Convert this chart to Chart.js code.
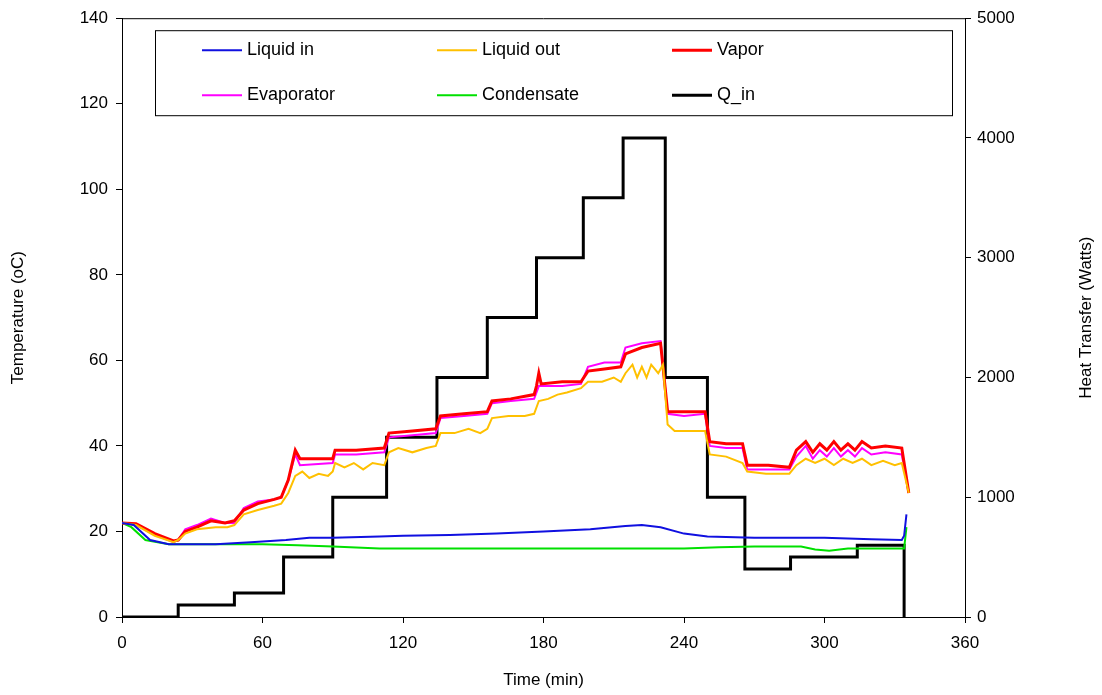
<!DOCTYPE html>
<html><head><meta charset="utf-8">
<script src="https://cdn.jsdelivr.net/npm/chart.js@4/dist/chart.umd.min.js"></script>
<style>body{margin:0;background:#fff}#wrap{width:1102px;height:695px}</style>
</head><body><div id="wrap"><canvas id="c"></canvas></div>
<script>
// [time (min), value] pairs
const liquidIn = [[0,22],[5,21.5],[12,18],[20,17],[40,17],[55,17.5],[70,18],[80,18.5],[90,18.5],[110,18.8],[120,19],[140,19.2],[160,19.5],[180,20],[200,20.5],[215,21.3],[222,21.5],[230,21],[240,19.5],[250,18.8],[270,18.5],[300,18.5],[320,18.2],[333,18],[334,19],[335,24]];
const liquidOut = [[0,22],[6,21.5],[14,19],[22,17.5],[24,18],[27,19.5],[32,20.5],[40,21],[45,21],[48,21.5],[52,24],[58,25],[65,26],[68,26.5],[71,29],[74,33],[77,34],[80,32.5],[84,33.5],[88,33],[90,34],[91,36],[95,35],[99,36],[103,34.5],[107,36],[112,35.5],[114,38.5],[118,39.5],[124,38.5],[130,39.5],[134,40],[136,43],[142,43],[148,44],[153,43],[156,44],[158,46.5],[165,47],[172,47],[176,47.5],[178,50.5],[182,51],[186,52],[190,52.5],[196,53.5],[199,55],[205,55],[210,56],[213,55],[215,57],[218,59],[220,56],[222,58.5],[224,56],[226,59],[229,57],[231,59],[233,45],[236,43.5],[249,43.5],[251,38],[258,37.5],[265,36],[267,34],[275,33.5],[285,33.5],[288,35.5],[292,37],[296,36],[300,37],[304,35.5],[308,37],[312,36],[316,37],[320,35.5],[325,36.5],[330,35.5],[333,36],[336,29]];
const vapor = [[0,22],[6,21.8],[14,19.5],[22,17.8],[24,18],[27,20],[32,21],[38,22.5],[44,22],[48,22.5],[52,25],[58,26.5],[65,27.5],[68,28],[71,32],[74,39],[76,37],[82,37],[88,37],[90,37],[91,39],[100,39],[112,39.5],[114,43],[124,43.5],[134,44],[136,47],[146,47.5],[156,48],[158,50.5],[166,51],[176,52],[177,54],[178,57],[179,54.5],[188,55],[196,55],[199,57.5],[206,58],[213,58.5],[215,61.5],[222,63],[230,64],[233,48],[240,48],[249,48],[251,41],[258,40.5],[265,40.5],[267,35.5],[276,35.5],[285,35],[288,39],[292,41],[295,38.5],[298,40.5],[301,39],[304,41],[307,39],[310,40.5],[313,39],[316,41],[320,39.5],[326,40],[333,39.5],[336,29]];
const evaporator = [[0,22],[6,21.5],[14,19.2],[22,17.5],[24,18],[27,20.5],[32,21.5],[38,23],[44,22],[48,22],[52,25.5],[58,27],[65,27.5],[68,28],[71,32],[74,38],[76,35.5],[90,36],[91,38],[100,38],[112,38.5],[114,42],[124,42.5],[134,43],[136,46.5],[146,47],[156,47.5],[158,50],[166,50.5],[176,51],[178,54],[188,54],[196,54.5],[199,58.5],[206,59.5],[213,59.5],[215,63],[222,64],[230,64.5],[233,47.5],[240,47],[249,47.5],[251,40],[258,39.5],[265,39.5],[267,34.5],[276,34.5],[285,34.5],[288,37.5],[292,40],[295,37],[298,39],[301,37.5],[304,39.5],[307,37.5],[310,39],[313,37.5],[316,39.5],[320,38],[326,38.5],[333,38],[336,29]];
const condensate = [[0,22],[4,21],[10,18],[20,17],[40,17],[60,17],[75,16.8],[90,16.5],[110,16],[150,16],[200,16],[240,16],[255,16.3],[270,16.5],[290,16.5],[296,15.8],[302,15.5],[310,16],[320,16],[334,16],[335,21]];
const qIn = [[0,0],[24,0],[24,100],[48,100],[48,200],[69,200],[69,500],[90,500],[90,1000],[113,1000],[113,1500],[134.5,1500],[134.5,2000],[156,2000],[156,2500],[177,2500],[177,3000],[197,3000],[197,3500],[214,3500],[214,4000],[232,4000],[232,2000],[250,2000],[250,1000],[266,1000],[266,400],[285.5,400],[285.5,500],[314,500],[314,600],[334,600],[334,0]];
const xTicks = [0,60,120,180,240,300,360];

const pts = a => a.map(p => ({x: p[0], y: p[1]}));
const font = {family: 'Liberation Sans, Arial', size: 17};

const legendBox = {
  id: 'legendBox',
  afterDraw(chart) {
    const c = chart.ctx, ca = chart.chartArea;
    const x0 = ca.left + 33, y0 = ca.top + 12, w = 797, h = 85;
    c.save();
    c.fillStyle = '#fff'; c.fillRect(x0, y0, w, h);
    c.strokeStyle = '#000'; c.lineWidth = 1; c.strokeRect(x0 + 0.5, y0 + 0.5, w, h);
    c.font = '18px Liberation Sans, Arial'; c.textBaseline = 'middle';
    chart.data.datasets.forEach((d, i) => {
      const col = i % 3, row = Math.floor(i / 3);
      const lx = x0 + 47 + col * 235, ly = y0 + 20 + row * 45;
      c.strokeStyle = d.borderColor; c.lineWidth = d.borderWidth;
      c.beginPath(); c.moveTo(lx, ly); c.lineTo(lx + 40, ly); c.stroke();
      c.fillStyle = '#000'; c.fillText(d.label, lx + 45, ly);
    });
    // right axis title, reading bottom to top
    c.translate(1086, (ca.top + ca.bottom) / 2);
    c.rotate(-Math.PI / 2);
    c.textAlign = 'center';
    c.font = '17px Liberation Sans, Arial';
    c.fillText('Heat Transfer (Watts)', 0, 0);
    c.restore();
  }
};

new Chart(document.getElementById('c'), {
  type: 'line',
  data: {datasets: [
    {label: 'Liquid in', data: pts(liquidIn), borderColor: '#1010e0', borderWidth: 2, yAxisID: 'y'},
    {label: 'Liquid out', data: pts(liquidOut), borderColor: '#ffc000', borderWidth: 2, yAxisID: 'y'},
    {label: 'Vapor', data: pts(vapor), borderColor: '#ff0000', borderWidth: 3, yAxisID: 'y'},
    {label: 'Evaporator', data: pts(evaporator), borderColor: '#ff00ff', borderWidth: 2, yAxisID: 'y'},
    {label: 'Condensate', data: pts(condensate), borderColor: '#00e000', borderWidth: 2, yAxisID: 'y'},
    {label: 'Q_in', data: pts(qIn), borderColor: '#000', borderWidth: 3, yAxisID: 'y2'}
  ]},
  options: {
    responsive: true, maintainAspectRatio: false, animation: false,
    elements: {point: {radius: 0}, line: {tension: 0}},
    layout: {padding: {left: 0, right: 0, top: 16, bottom: 4}},
    plugins: {legend: {display: false}, tooltip: {enabled: false}},
    scales: {
      x: {type: 'linear', min: 0, max: 360,
        afterBuildTicks: s => { s.ticks = xTicks.map(v => ({value: v})); },
        afterFit: s => { s.height = 74; },
        grid: {drawOnChartArea: false, color: '#000', tickLength: 6},
        border: {color: '#000', width: 1},
        ticks: {color: '#000', font, padding: 10},
        title: {display: true, text: 'Time (min)', color: '#000', font, padding: 0}},
      y: {position: 'left', min: 0, max: 140,
        afterFit: s => { s.width = 122; },
        ticks: {stepSize: 20, color: '#000', font, padding: 8},
        grid: {drawOnChartArea: false, color: '#000', tickLength: 6},
        border: {color: '#000', width: 1},
        title: {display: true, text: 'Temperature (oC)', color: '#000', font, padding: {top: 8, bottom: 20}}},
      y2: {position: 'right', min: 0, max: 5000,
        afterFit: s => { s.width = 137; },
        ticks: {stepSize: 1000, color: '#000', font, padding: 6, callback: v => String(v)},
        grid: {drawOnChartArea: false, color: '#000', tickLength: 6},
        border: {color: '#000', width: 1}}
    }
  },
  plugins: [legendBox, {
    id: 'frame',
    afterDraw(chart) {
      const c = chart.ctx, a = chart.chartArea;
      c.save(); c.strokeStyle = '#000'; c.lineWidth = 1;
      c.beginPath(); c.moveTo(a.left, a.top + 0.5); c.lineTo(a.right, a.top + 0.5); c.stroke();
      c.restore();
    }
  }]
});
</script></body></html>
